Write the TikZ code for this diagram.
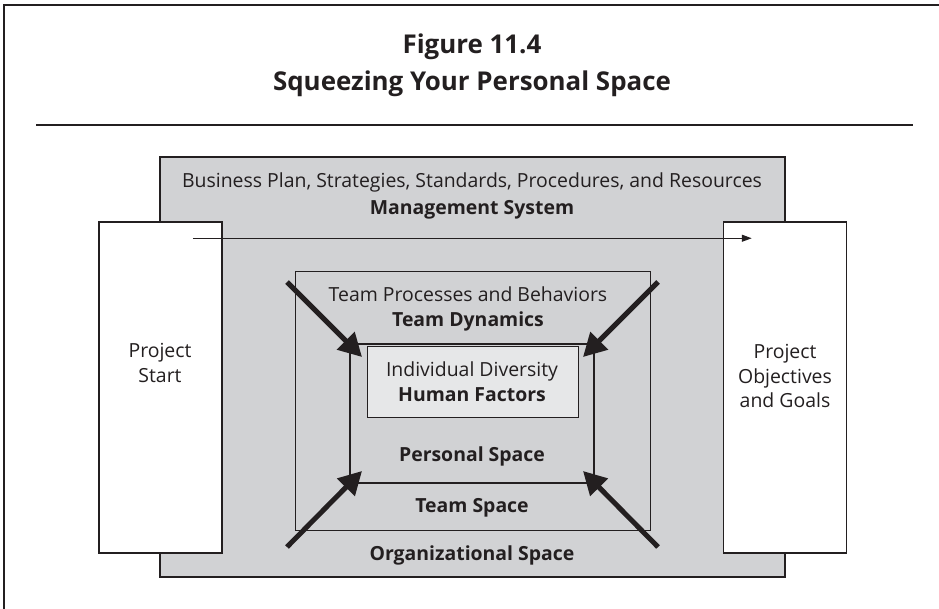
\documentclass[tikz,border=0pt]{standalone}
\usepackage{fontspec}
\setmainfont{Open Sans}
\usetikzlibrary{arrows.meta, positioning}
\definecolor{ink}{HTML}{231F20}
\definecolor{orggray}{HTML}{D1D2D4}
\definecolor{humangray}{HTML}{E6E7E8}

\begin{document}
\begin{tikzpicture}[
	  x=1bp, y=-1bp,
	  every node/.style={font=\fontsize{19.5}{25}\selectfont, text=ink, inner sep=0pt},
	  orgbox/.style={rectangle, draw=ink, line width=2.5bp, fill=orggray, minimum width=625bp, minimum height=420bp},
	  pillar/.style={rectangle, draw=ink, line width=1.5bp, fill=white, minimum width=123bp, minimum height=331bp},
	  teambox/.style={rectangle, draw=ink, line width=1bp, minimum width=355bp, minimum height=258bp},
	  personalbox/.style={rectangle, draw=ink, line width=2bp, minimum width=244bp, minimum height=139bp},
	  humanbox/.style={rectangle, draw=ink, line width=1bp, fill=humangray, minimum width=211bp, minimum height=71bp},
	  label/.style={align=center},
	  boldlabel/.style={align=center, font=\fontsize{19.5}{25}\selectfont\bfseries},
	  title/.style={align=center, font=\fontsize{26}{37}\selectfont\bfseries},
	  flow/.style={draw=ink, line width=1.2bp, -{Triangle[length=10bp, width=7bp]}},
	  squeeze/.style={draw=ink, line width=5bp, -{Triangle[length=23bp, width=24bp]}}
	]

	\useasboundingbox (0,0) rectangle (939,609);
	\draw [ink, line width=1.8bp] (4,609) |- (939,5);
	\node (title) [title] at (472,65) {Figure 11.4\\Squeezing Your Personal Space};
	\draw [ink, line width=1.5bp] (36,125) -- (913,125);

	\node (org) [orgbox] at (472.5,367) {};
	\node (start) [pillar] at (160.5,387.5) {};
	\node (goals) [pillar] at (785,387.5) {};
	\node (team) [teambox] at (472.5,401) {};
	\node (personal) [personalbox] at (472,413.5) {};
	\node (human) [humanbox] at (472.5,381.5) {};

	\node (mgmt) [label, font=\fontsize{19.5}{27}\selectfont] at (472,196) {Business Plan, Strategies, Standards, Procedures, and Resources\\\textbf{Management System}};
	\node (dynamics) [label] at (468,309) {Team Processes and Behaviors\\\textbf{Team Dynamics}};
	\node (factors) [label] at (472,382) {Individual Diversity\\\textbf{Human Factors}};
	\node (personaltxt) [boldlabel] at (472,456) {Personal Space};
	\node (teamtxt) [boldlabel] at (472,508) {Team Space};
	\node (orgtxt) [boldlabel] at (472,555) {Organizational Space};
	\node (starttxt) [label] at (160,363) {Project\\Start};
	\node (goalstxt) [label] at (785,376) {Project\\Objectives\\and Goals};

	\draw [flow] ([shift={(-30,17)}]start.north east) -- ([shift={(29,17)}]goals.north west);

	\coordinate (tl) at (287,282);
	\coordinate (tr) at (658,282);
	\coordinate (bl) at (287,547);
	\coordinate (br) at (658,547);
	\draw [squeeze] (tl) -- ([shift={(13,14)}]personal.north west);
	\draw [squeeze] (tr) -- ([shift={(-12,14)}]personal.north east);
	\draw [squeeze] (bl) -- ([shift={(13,-13)}]personal.south west);
	\draw [squeeze] (br) -- ([shift={(-12,-13)}]personal.south east);

	\end{tikzpicture}
\end{document}
